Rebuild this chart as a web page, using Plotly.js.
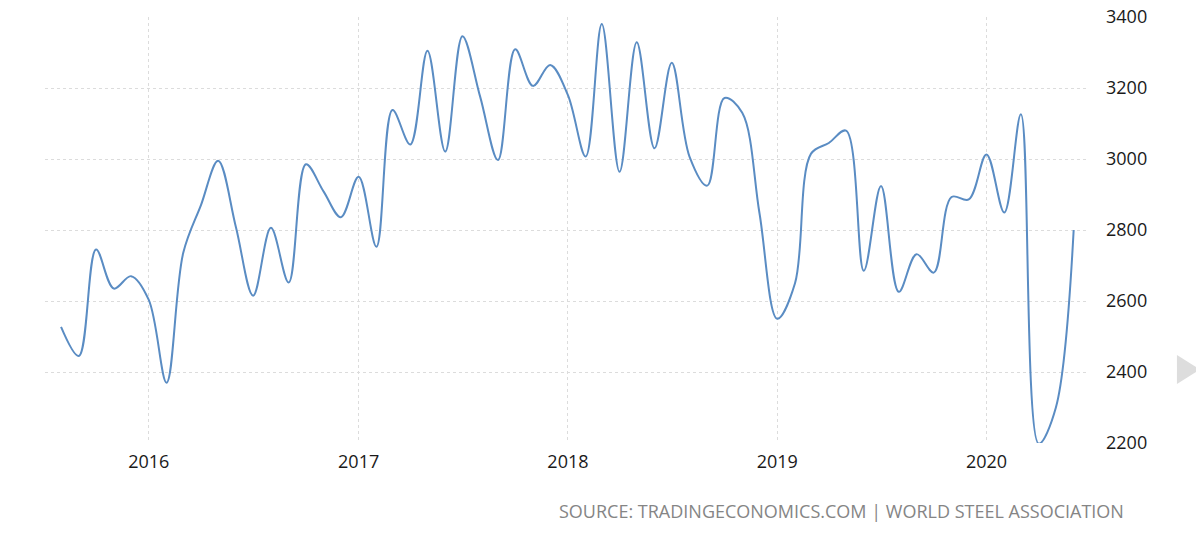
<!DOCTYPE html>
<html>
<head>
<meta charset="utf-8">
<script src="https://cdn.plot.ly/plotly-3.0.1.min.js"></script>
<style>html,body{margin:0;padding:0;background:#fff;}#chart{width:1196px;height:537px;}</style>
</head>
<body>
<div id="chart"></div>
<script>
const months = [
  "2015-08-01","2015-09-01","2015-10-01","2015-11-01","2015-12-01",
  "2016-01-01","2016-02-01","2016-03-01","2016-04-01","2016-05-01","2016-06-01",
  "2016-07-01","2016-08-01","2016-09-01","2016-10-01","2016-11-01","2016-12-01",
  "2017-01-01","2017-02-01","2017-03-01","2017-04-01","2017-05-01","2017-06-01",
  "2017-07-01","2017-08-01","2017-09-01","2017-10-01","2017-11-01","2017-12-01",
  "2018-01-01","2018-02-01","2018-03-01","2018-04-01","2018-05-01","2018-06-01",
  "2018-07-01","2018-08-01","2018-09-01","2018-10-01","2018-11-01","2018-12-01",
  "2019-01-01","2019-02-01","2019-03-01","2019-04-01","2019-05-01","2019-06-01",
  "2019-07-01","2019-08-01","2019-09-01","2019-10-01","2019-11-01","2019-12-01",
  "2020-01-01","2020-02-01","2020-03-01","2020-04-01","2020-05-01","2020-06-01"
];
const production = [
  2527, 2445, 2745, 2635, 2670,
  2603, 2370, 2735, 2870, 2995, 2808,
  2615, 2806, 2652, 2985, 2908, 2836,
  2950, 2753, 3138, 3041, 3305, 3021,
  3346, 3175, 2997, 3309, 3206, 3265,
  3180, 3007, 3380, 2964, 3329, 3030,
  3271, 3007, 2925, 3172, 3130, 2848,
  2550, 2650, 3015, 3045, 3080, 2685,
  2924, 2626, 2732, 2680, 2893, 2886,
  3013, 2849, 3126, 2198, 2300, 2800
];
const yTicks = [2200, 2400, 2600, 2800, 3000, 3200, 3400];
const sourceText = "SOURCE: TRADINGECONOMICS.COM | WORLD STEEL ASSOCIATION";

const trace = {
  x: months,
  y: production,
  type: "scatter",
  mode: "lines",
  line: {color: "#5a8cc3", width: 2, shape: "spline", smoothing: 1},
  hoverinfo: "x+y"
};

const layout = {
  width: 1196, height: 537,
  margin: {l: 45, r: 108, t: 17, b: 94, pad: 0},
  paper_bgcolor: "#fff", plot_bgcolor: "#fff",
  showlegend: false,
  font: {family: "Open Sans, sans-serif", color: "#222", size: 18},
  xaxis: {
    type: "date",
    range: ["2015-07-04", "2020-06-26"],
    tick0: "2016-01-01", dtick: "M12", tickformat: "%Y",
    showgrid: true, gridcolor: "#dcdcdc", griddash: "dot", gridwidth: 1,
    zeroline: false, showline: false, ticks: "",
    ticklabelstandoff: 6,
    tickfont: {size: 18, color: "#1a1a1a"}
  },
  yaxis: {
    side: "right",
    range: [2200, 3400],
    tickvals: yTicks,
    ticktext: yTicks.map(String),
    showgrid: true, gridcolor: "#dcdcdc", griddash: "dot", gridwidth: 1,
    zeroline: false, showline: false, ticks: "",
    ticklabelstandoff: 17,
    tickfont: {size: 18, color: "#1a1a1a"}
  },
  shapes: [{
    type: "path", xref: "paper", yref: "paper",
    path: "M 1.0853 0.2066 L 1.0853 0.1385 L 1.1074 0.1726 Z",
    fillcolor: "#dddddd", line: {width: 0}
  }],
  annotations: [{
    text: sourceText, xref: "paper", yref: "paper",
    x: 1.0364, y: -0.1596, xanchor: "right", yanchor: "middle",
    showarrow: false, font: {size: 18, color: "#858585"}
  }]
};

Plotly.newPlot("chart", [trace], layout, {displayModeBar: false, staticPlot: true});
</script>
</body>
</html>
